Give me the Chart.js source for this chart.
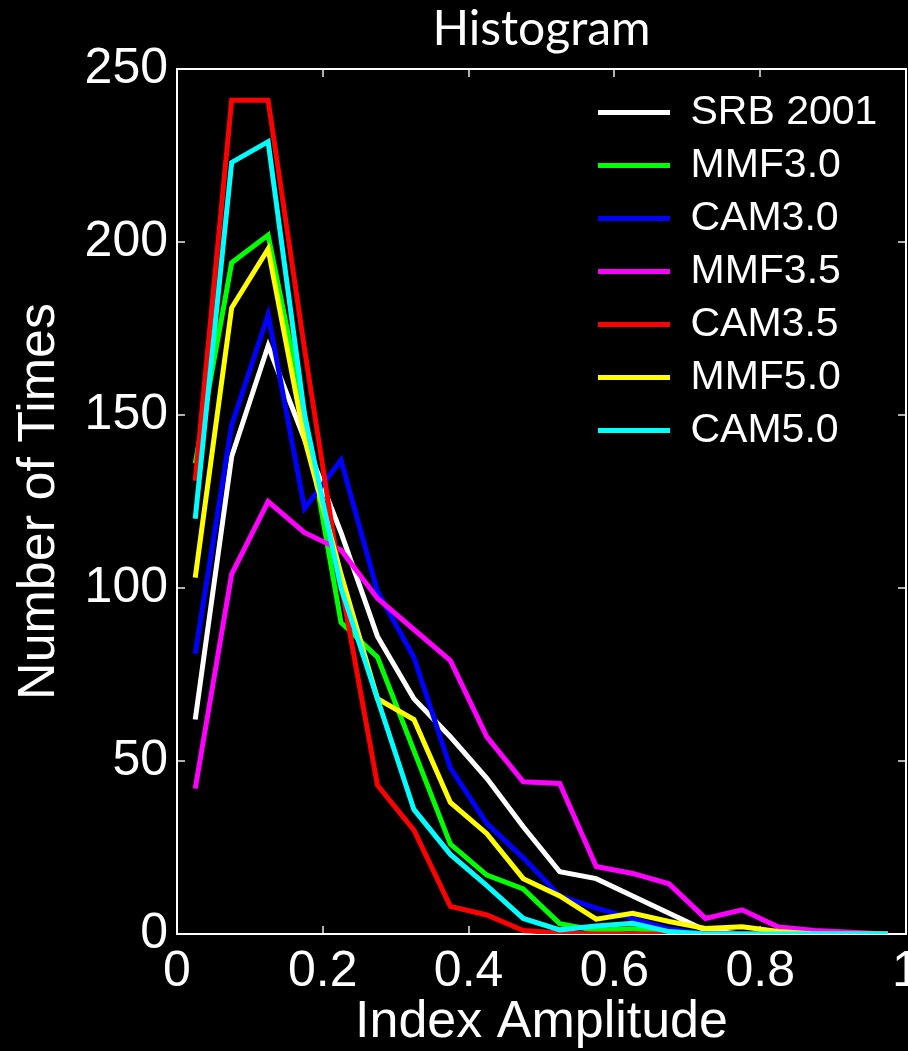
<!DOCTYPE html>
<html>
<head>
<meta charset="utf-8">
<title>Histogram</title>
<script src="https://cdn.jsdelivr.net/npm/chart.js@4.4.0/dist/chart.umd.min.js"></script>
<style>
  html, body { margin: 0; padding: 0; background: #000; }
  #wrap { width: 908px; height: 1051px; }
</style>
</head>
<body>
<div id="wrap"><canvas id="histChart" width="908" height="1051"></canvas></div>
<script>
// bin centres of the histogram (index amplitude)
const amplitude = [0.025, 0.075, 0.125, 0.175, 0.225, 0.275, 0.325, 0.375, 0.425, 0.475,
                   0.525, 0.575, 0.625, 0.675, 0.725, 0.775, 0.825, 0.875, 0.925, 0.975];

// number of times per bin
const srb2001 = [62, 138, 170, 143, 116, 86, 68, 57, 45, 31, 18, 16, 11, 6, 1, 0, 0, 0, 0, 0];
const mmf30   = [136, 194, 202, 150, 90, 80, 53, 26, 17, 13, 3, 1, 1.5, 0.5, 0, 0, 0, 0, 0, 0];
const cam30   = [81, 147, 179, 123, 137, 99, 80, 48, 32, 22, 11, 7.5, 4.5, 1.5, 0, 0, 0, 0, 0, 0];
const mmf35   = [42, 104, 125, 116, 111, 97, 88, 79, 57, 44, 43.5, 19.5, 17.5, 14.5, 4.5, 7, 2, 1, 0.5, 0];
const cam35   = [131, 241, 241, 169, 101, 43, 30, 8, 5.5, 1, 0.3, 0, 0, 0, 0, 0, 0, 0, 0, 0];
const mmf50   = [103, 181, 198, 143, 104, 68, 62, 38, 29, 16, 11, 4.3, 6, 3.6, 1.6, 2.1, 0.7, 0, 0, 0];
const cam50   = [120, 223, 229, 150, 100, 68, 36, 23, 14, 4.5, 1.2, 2.3, 3.1, 0.7, 0, 0, 0, 0, 0, 0];

const seriesNames  = ['SRB 2001', 'MMF3.0', 'CAM3.0', 'MMF3.5', 'CAM3.5', 'MMF5.0', 'CAM5.0'];
const seriesValues = [srb2001, mmf30, cam30, mmf35, cam35, mmf50, cam50];
const seriesColors = ['#ffffff', '#00ff00', '#0000ff', '#ff00ff', '#ff0000', '#ffff00', '#00ffff'];

const fontFamily = "'Liberation Sans', Arial, Helvetica, sans-serif";
Chart.defaults.font.family = fontFamily;
Chart.defaults.color = '#ffffff';

// later series are drawn on top, like the original plot
const datasets = seriesNames.map((name, i) => ({
    label: name,
    data: amplitude.map((a, j) => ({ x: a, y: seriesValues[i][j] })),
    borderColor: seriesColors[i],
    backgroundColor: seriesColors[i],
    borderWidth: 5,
    pointRadius: 0,
    tension: 0,
    order: seriesNames.length - i
}));

// move the legend box into the upper right corner of the plot
const legendInside = {
    id: 'legendInside',
    afterLayout(chart) {
        const area = chart.chartArea;
        chart.legend.left = area.right - 320;
        chart.legend.top = area.top + 11;
    }
};

const tickGrid = { drawOnChartArea: false, tickLength: -8, color: '#b0b0b0', lineWidth: 2 };
const axisBorder = { color: '#ffffff', width: 2 };

const ctx = document.getElementById('histChart').getContext('2d');
const histChart = new Chart(ctx, {
    type: 'line',
    data: { datasets: datasets },
    plugins: [legendInside],
    options: {
        responsive: false,
        animation: false,
        layout: { padding: 0 },
        plugins: {
            title: {
                display: true,
                text: 'Histogram',
                color: '#ffffff',
                fullSize: false,
                font: { family: "Lato, 'Open Sans', sans-serif", size: 48, weight: 'normal', lineHeight: 1 },
                padding: { top: 6, bottom: 15 }
            },
            legend: {
                position: 'chartArea',
                align: 'start',
                labels: {
                    color: '#ffffff',
                    font: { size: 41 },
                    usePointStyle: true,
                    pointStyle: 'line',
                    pointStyleWidth: 72,
                    padding: 12,
                    sort: (a, b) => a.datasetIndex - b.datasetIndex
                }
            },
            tooltip: { enabled: false }
        },
        scales: {
            x: {
                type: 'linear',
                position: 'bottom',
                min: 0,
                max: 1,
                ticks: {
                    stepSize: 0.2, font: { size: 50 }, padding: 16, maxRotation: 0, autoSkip: false,
                    callback: (value) => String(value)
                },
                grid: tickGrid,
                border: axisBorder,
                title: {
                    display: true,
                    text: 'Index Amplitude',
                    font: { size: 52, lineHeight: 1 },
                    padding: { top: 0, bottom: 2 }
                },
                afterFit(scale) { scale.height = 117; scale.paddingLeft = 0; scale.paddingRight = 0; }
            },
            xTop: {
                type: 'linear',
                position: 'top',
                min: 0,
                max: 1,
                ticks: { stepSize: 0.2, display: false },
                grid: tickGrid,
                border: axisBorder,
                afterFit(scale) { scale.height = 0; scale.paddingLeft = 0; scale.paddingRight = 0; }
            },
            y: {
                type: 'linear',
                position: 'left',
                min: 0,
                max: 250,
                ticks: { stepSize: 50, font: { size: 50 }, padding: 17 },
                grid: tickGrid,
                border: axisBorder,
                title: {
                    display: true,
                    text: 'Number of Times',
                    font: { size: 52, lineHeight: 1 },
                    padding: { top: 14, bottom: 0 }
                },
                afterFit(scale) { scale.width = 177; scale.paddingTop = 0; scale.paddingBottom = 0; }
            },
            yRight: {
                type: 'linear',
                position: 'right',
                min: 0,
                max: 250,
                ticks: { stepSize: 50, display: false },
                grid: tickGrid,
                border: axisBorder,
                afterFit(scale) { scale.width = 2; scale.paddingTop = 0; scale.paddingBottom = 0; }
            }
        }
    }
});
</script>
</body>
</html>
